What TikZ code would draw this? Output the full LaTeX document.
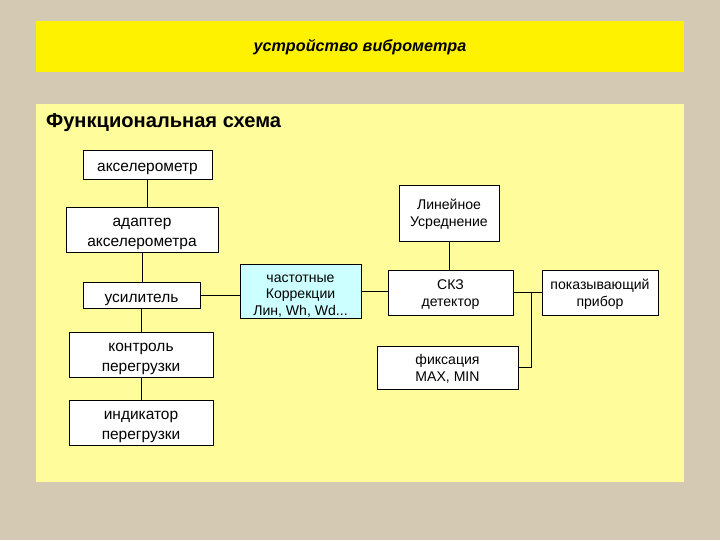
\documentclass[tikz,border=0pt]{standalone}
\usepackage{fontspec}
\setmainfont{Liberation Sans}
\usetikzlibrary{positioning}
\definecolor{linen}{RGB}{212,202,180}
\definecolor{panelyellow}{RGB}{255,252,155}
\definecolor{corrblue}{RGB}{204,255,255}
% lines of a block, hung from the baseline of the first one
\newcommand{\blocklines}[1]{\begin{tabular}[t]{@{}c@{}}#1\end{tabular}}

\begin{document}
\begin{tikzpicture}[x=0.025cm, y=-0.025cm, line width=0.6pt,
  block/.style={draw=black, fill=white, inner sep=0pt,
    font=\fontsize{11}{13.8}\selectfont},
  smallblock/.style={block, font=\fontsize{10}{12}\selectfont},
  onerow/.style={text height=10pt, text depth=0pt},
  tworows/.style={text height=0pt, text depth=3.6pt},
  tworows small/.style={text height=0pt, text depth=4.8pt},
  threerows small/.style={text height=0pt, text depth=12.8pt}]
  % Background
  \fill[linen] (0,0) rectangle (720,540);
  \useasboundingbox (0,0) rectangle (720,540);

  % Title bar
  \fill[yellow] (36,21) rectangle (684,72);
  \node (title) at (360,47) {\fontsize{11.5}{14}\selectfont\itshape\bfseries устройство виброметра};

  % Panel
  \fill[panelyellow] (36,104) rectangle (684,482);
  \node[anchor=west, font=\fontsize{14.3}{17}\selectfont\bfseries] (heading) at (41,123) {Функциональная схема};

  % Left column
  \node[block, onerow, minimum width=129*0.025cm, minimum height=29*0.025cm] (accel) at (147.5,164.5) {\blocklines{акселерометр}};
  \node[block, tworows, minimum width=152*0.025cm, minimum height=45*0.025cm] (adapter) at (142,229.5) {\blocklines{адаптер\\акселерометра}};
  \node[block, onerow, minimum width=117*0.025cm, minimum height=26*0.025cm] (amp) at (141.5,295) {\blocklines{усилитель}};
  \node[block, tworows, minimum width=144*0.025cm, minimum height=45*0.025cm] (ovlctrl) at (141,354.5) {\blocklines{контроль\\перегрузки}};
  \node[block, tworows, minimum width=144*0.025cm, minimum height=45*0.025cm] (ovlind) at (141,422.5) {\blocklines{индикатор\\перегрузки}};

  % Weighting
  \node[smallblock, threerows small, fill=corrblue, minimum width=121*0.025cm, minimum height=54*0.025cm] (corr) at (300.5,291) {\blocklines{частотные\\Коррекции\\Лин, Wh, Wd...}};

  % Right part
  \node[smallblock, tworows small, minimum width=100*0.025cm, minimum height=56*0.025cm] (avg) at (449,213) {\blocklines{Линейное\\Усреднение}};
  \node[smallblock, tworows small, minimum width=125*0.025cm, minimum height=45*0.025cm] (rms) at (450.5,292.5) {\blocklines{СКЗ\\детектор}};
  \node[smallblock, tworows small, minimum width=116*0.025cm, minimum height=45*0.025cm] (display) at (600,292.5) {\blocklines{показывающий\\прибор}};
  \node[smallblock, tworows small, minimum width=141*0.025cm, minimum height=43*0.025cm] (hold) at (447.5,367.5) {\blocklines{фиксация\\MAX, MIN}};
  \coordinate (tap) at (531,292.5);

  % Connections
  \draw (accel.south) -- (accel.south |- adapter.north);
  \draw (adapter.south) -- (adapter.south |- amp.north);
  \draw (amp.south) -- (amp.south |- ovlctrl.north);
  \draw (ovlctrl.south) -- (ovlind.north);
  \draw (amp.east) -- (amp.east -| corr.west);
  \draw (corr.east) -- (corr.east -| rms.west);
  \draw (avg.south) -- (avg.south |- rms.north);
  \draw (rms.east) -- (display.west);
  \draw (tap) |- (hold.east);
\end{tikzpicture}
\end{document}
